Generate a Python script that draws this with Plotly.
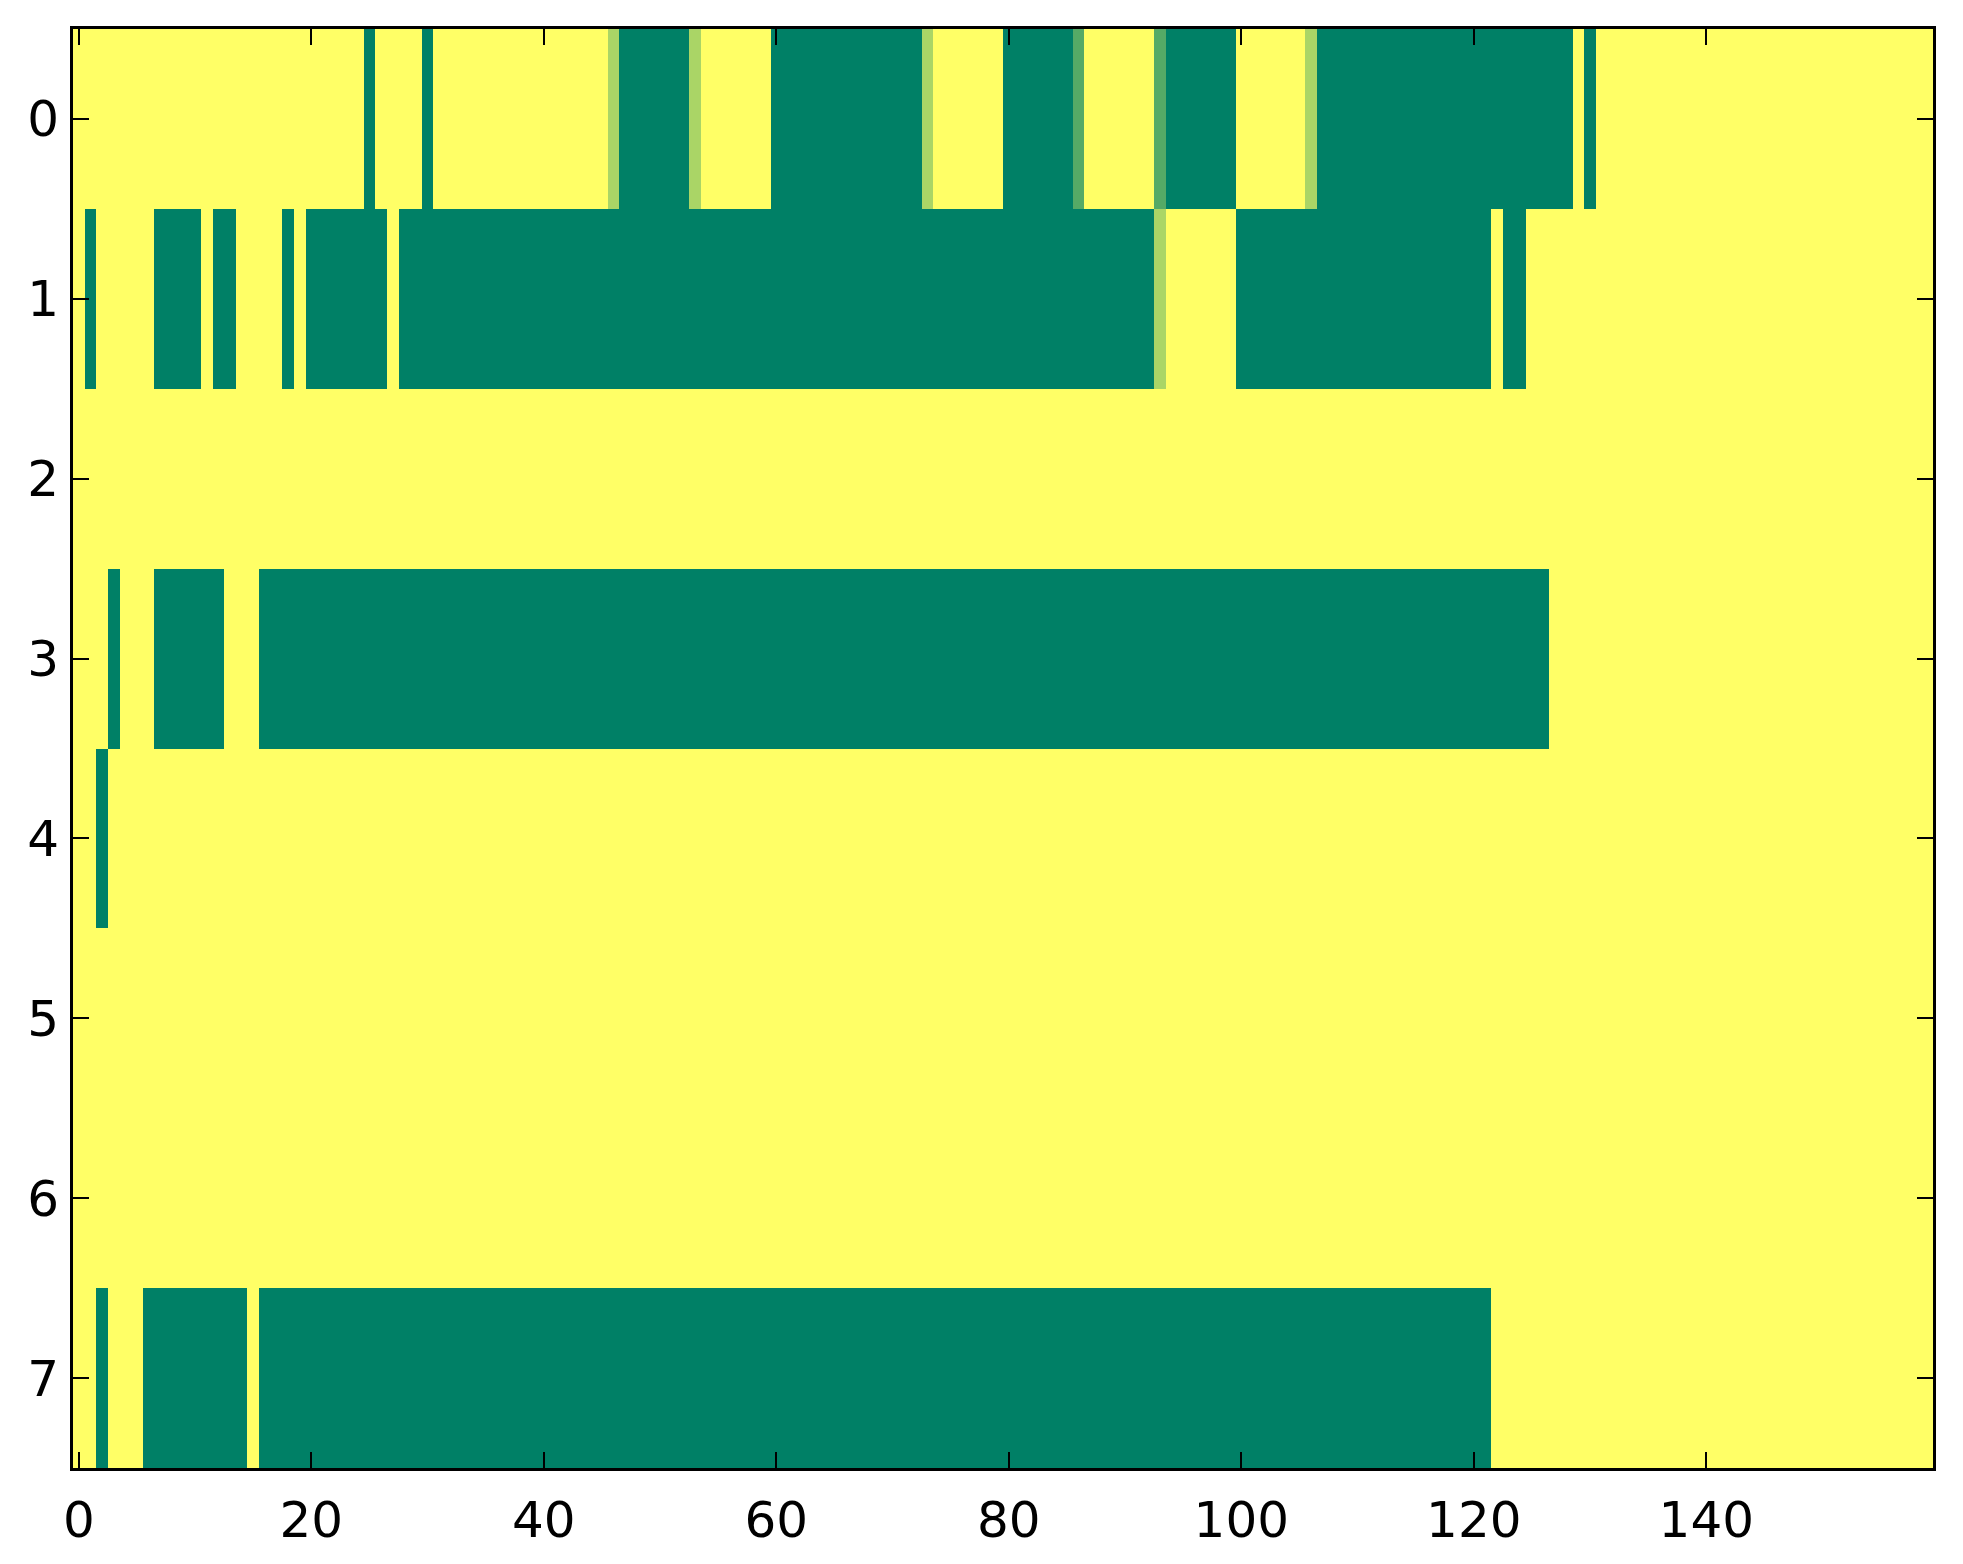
import plotly.graph_objects as go

# Each row of the image as runs of (value, number of columns); values 0, 1/3, 2/3, 1
row0_runs = [(1, 25), (0, 1), (1, 4), (0, 1), (1, 15), (2/3, 1), (0, 6), (2/3, 1),
             (1, 6), (0, 13), (2/3, 1), (1, 6), (0, 6), (1/3, 1), (1, 6), (1/3, 1),
             (0, 6), (1, 6), (2/3, 1), (0, 22), (1, 1), (0, 1), (1, 29)]
row1_runs = [(1, 1), (0, 1), (1, 5), (0, 4), (1, 1), (0, 2), (1, 4), (0, 1), (1, 1),
             (0, 7), (1, 1), (0, 65), (2/3, 1), (1, 6), (0, 22), (1, 1), (0, 2), (1, 35)]
row2_runs = [(1, 160)]
row3_runs = [(1, 3), (0, 1), (1, 3), (0, 6), (1, 3), (0, 111), (1, 33)]
row4_runs = [(1, 2), (0, 1), (1, 157)]
row5_runs = [(1, 160)]
row6_runs = [(1, 160)]
row7_runs = [(1, 2), (0, 1), (1, 3), (0, 9), (1, 1), (0, 106), (1, 38)]

rows_runs = [row0_runs, row1_runs, row2_runs, row3_runs,
             row4_runs, row5_runs, row6_runs, row7_runs]

x_ticks = [0, 20, 40, 60, 80, 100, 120, 140]
y_ticks = [0, 1, 2, 3, 4, 5, 6, 7]


def expand(runs):
    out = []
    for v, n in runs:
        out.extend([v] * n)
    return out


z = [expand(r) for r in rows_runs]
ncols = len(z[0])

summer = [[0.0, "rgb(0,128,102)"], [1.0, "rgb(255,255,102)"]]

fig = go.Figure(go.Heatmap(
    z=z,
    x=list(range(ncols)),
    y=list(range(len(z))),
    colorscale=summer,
    zmin=0, zmax=1,
    showscale=False,
    zsmooth=False,
    hoverinfo="skip",
))

axis_common = dict(
    showline=True, linecolor="black", linewidth=3, mirror="ticks",
    ticks="inside", ticklen=16, tickwidth=2, tickcolor="black",
    showgrid=False, zeroline=False,
    tickfont=dict(family="DejaVu Sans", size=50, color="black"),
)

fig.update_layout(
    width=1955, height=1556,
    margin=dict(l=65, r=30, t=21, b=96),
    paper_bgcolor="white", plot_bgcolor="white",
    xaxis=dict(range=[-0.5, ncols - 0.5], tickvals=x_ticks,
               ticklabelstandoff=6, **axis_common),
    yaxis=dict(range=[len(z) - 0.5, -0.5], tickvals=y_ticks,
               ticklabelstandoff=1, **axis_common),
)

fig.write_html("out.html")
